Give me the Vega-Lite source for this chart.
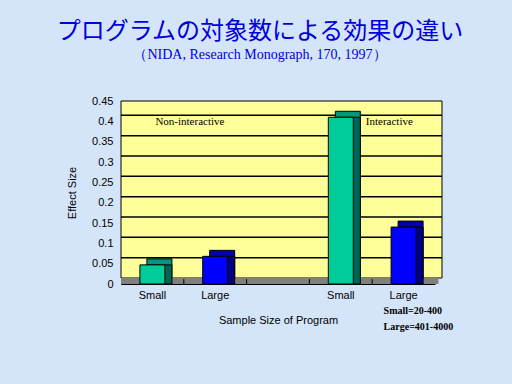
{
  "$schema": "https://vega.github.io/schema/vega-lite/v6.json",
  "width": 314,
  "height": 183,
  "autosize": {"type": "none"},
  "padding": {"left": 121, "top": 101, "right": 77, "bottom": 100},
  "background": "#D5E5F9",
  "config": {"view": {"stroke": null}},
  "title": {
    "text": "プログラムの対象数による効果の違い",
    "subtitle": "（NIDA, Research Monograph, 170, 1997）",
    "font": "Noto Sans CJK JP",
    "fontSize": 24,
    "fontWeight": "normal",
    "color": "#0000DD",
    "subtitleFont": "Liberation Serif",
    "subtitleFontSize": 14,
    "subtitleColor": "#0000DD",
    "subtitlePadding": 4,
    "anchor": "middle",
    "dx": -18,
    "offset": 33
  },
  "datasets": {
    "bars": [
      {"pos": "s1", "size": "Small", "type": "Non-interactive", "v": 0.047},
      {"pos": "l1", "size": "Large", "type": "Non-interactive", "v": 0.068},
      {"pos": "s2", "size": "Small", "type": "Interactive", "v": 0.41},
      {"pos": "l2", "size": "Large", "type": "Interactive", "v": 0.14}
    ],
    "wall": [{"v": 0, "v2": 0.45}],
    "grid": [{"v": 0.05}, {"v": 0.1}, {"v": 0.15}, {"v": 0.2}, {"v": 0.25}, {"v": 0.3}, {"v": 0.35}, {"v": 0.4}],
    "floor": [{"v": 0}],
    "floorticks": [{"pos": "l1", "v": 0}, {"pos": "gap", "v": 0}, {"pos": "s2", "v": 0}, {"pos": "l2", "v": 0}],
    "notes": [
      {"label": "Small=20-400", "pos": "l2", "v": -0.067},
      {"label": "Large=401-4000", "pos": "l2", "v": -0.106}
    ]
  },
  "encoding": {
    "x": {
      "field": "pos",
      "type": "nominal",
      "scale": {"domain": ["s1", "l1", "gap", "s2", "l2"], "paddingInner": 0, "paddingOuter": 0},
      "axis": {
        "title": "Sample Size of Program",
        "titleFont": "Liberation Sans",
        "titleFontSize": 11,
        "titleFontWeight": "normal",
        "titleColor": "#000000",
        "titlePadding": 14,
        "labelExpr": "datum.value == 's1' || datum.value == 's2' ? 'Small' : (datum.value == 'gap' ? '' : 'Large')",
        "labelFont": "Liberation Sans",
        "labelFontSize": 11,
        "labelColor": "#000000",
        "labelAngle": 0,
        "labelPadding": 5,
        "ticks": false,
        "domainColor": "#000000",
        "domainWidth": 1
      }
    },
    "y": {
      "field": "v",
      "type": "quantitative",
      "scale": {"domain": [0, 0.45]},
      "axis": {
        "title": "Effect Size",
        "titleFont": "Liberation Sans",
        "titleFontSize": 11,
        "titleFontWeight": "normal",
        "titleColor": "#000000",
        "titlePadding": 14,
        "values": [0, 0.05, 0.1, 0.15, 0.2, 0.25, 0.3, 0.35, 0.4, 0.45],
        "format": "~g",
        "labelOverlap": false,
        "labelFont": "Liberation Sans",
        "labelFontSize": 11,
        "labelColor": "#000000",
        "labelPadding": 8,
        "ticks": false,
        "grid": false,
        "domainColor": "#000000"
      }
    }
  },
  "layer": [
    {
      "data": {"name": "wall"},
      "mark": {"type": "rect", "fill": "#FFFF99"},
      "encoding": {"x": null, "y2": {"field": "v2"}}
    },
    {
      "data": {"name": "wall"},
      "mark": {"type": "rect", "fill": "#FFFF99", "stroke": "#000000", "strokeWidth": 1, "xOffset": 7, "yOffset": -6},
      "encoding": {"x": null, "y2": {"field": "v2"}}
    },
    {
      "data": {"name": "grid"},
      "mark": {"type": "rule", "color": "#000000", "strokeWidth": 1.5, "xOffset": 7, "yOffset": -6},
      "encoding": {"x": null}
    },
    {
      "data": {"name": "floor"},
      "mark": {"type": "rule", "color": "#808080", "strokeWidth": 6, "xOffset": 3.5, "yOffset": -3},
      "encoding": {"x": null}
    },
    {
      "data": {"name": "floorticks"},
      "mark": {"type": "rule", "color": "#000000", "strokeWidth": 1},
      "encoding": {
        "x": {"field": "pos", "type": "nominal", "bandPosition": 0},
        "y2": {"datum": 0.012}
      }
    },
    {
      "data": {"name": "bars"},
      "mark": {"type": "bar", "size": 25, "xOffset": 7, "yOffset": -6, "stroke": "#000000", "strokeWidth": 1},
      "encoding": {
        "fill": {"condition": {"test": "datum.size === 'Small'", "value": "#009977"}, "value": "#0000B0"}
      }
    },
    {
      "data": {"name": "bars"},
      "mark": {"type": "bar", "size": 25, "xOffset": 7, "yOffset": 0, "stroke": "#000000", "strokeWidth": 1},
      "encoding": {
        "fill": {"condition": {"test": "datum.size === 'Small'", "value": "#006650"}, "value": "#000080"}
      }
    },
    {
      "data": {"name": "bars"},
      "mark": {"type": "bar", "size": 25, "stroke": "#000000", "strokeWidth": 1},
      "encoding": {
        "fill": {"condition": {"test": "datum.size === 'Small'", "value": "#00CC99"}, "value": "#0000FF"}
      }
    },
    {
      "data": {"values": [{"label": "Non-interactive", "pos": "s1", "v": 0.398}]},
      "mark": {"type": "text", "align": "left", "baseline": "middle", "dx": 3, "font": "Liberation Serif", "fontSize": 11, "color": "#000000"},
      "encoding": {"text": {"field": "label"}}
    },
    {
      "data": {"values": [{"label": "Interactive", "pos": "s2", "v": 0.398}]},
      "mark": {"type": "text", "align": "left", "baseline": "middle", "dx": 25, "font": "Liberation Serif", "fontSize": 11, "color": "#000000"},
      "encoding": {"text": {"field": "label"}}
    },
    {
      "data": {"name": "notes"},
      "mark": {"type": "text", "align": "left", "baseline": "middle", "dx": -20, "font": "Liberation Serif", "fontSize": 10, "fontWeight": "bold", "color": "#000000"},
      "encoding": {"text": {"field": "label"}}
    }
  ]
}
